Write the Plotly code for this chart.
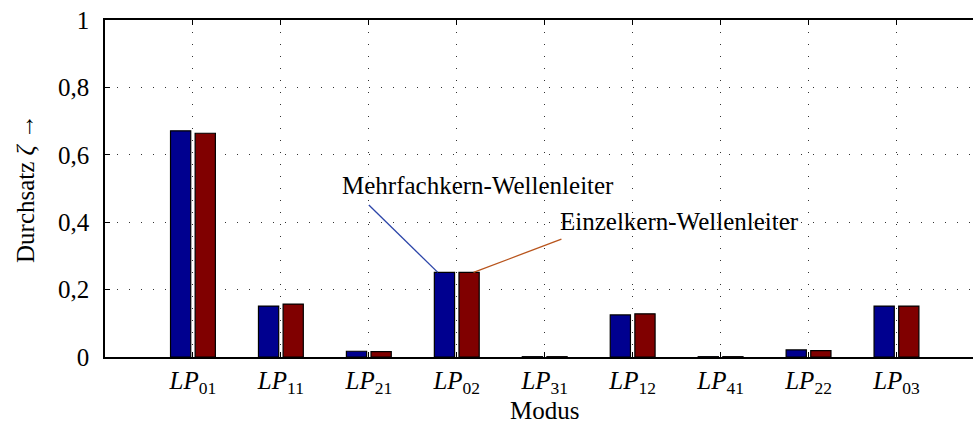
import plotly.graph_objects as go

# Modes (LP mode designations) and throughput per waveguide type
modes = ["01", "11", "21", "02", "31", "12", "41", "22", "03"]
mode_labels = [f"<i>LP</i><sub>{m}</sub>" for m in modes]
multicore = [0.671, 0.151, 0.017, 0.251, 0.001, 0.125, 0.001, 0.021, 0.151]
singlecore = [0.664, 0.157, 0.016, 0.251, 0.001, 0.128, 0.001, 0.019, 0.151]

y_ticks = [0, 0.2, 0.4, 0.6, 0.8, 1]
y_ticktext = ["0", "0,2", "0,4", "0,6", "0,8", "1"]

BLUE = "#00008F"
DARKRED = "#800000"
FONT = "Liberation Serif"
FS = 25

BAR_W = 0.23
OFF_BLUE = -0.255
OFF_RED = 0.025

x_idx = list(range(len(modes)))

fig = go.Figure()
fig.add_trace(go.Bar(
    x=x_idx, y=multicore, name="Mehrfachkern-Wellenleiter",
    width=BAR_W, offset=OFF_BLUE,
    marker=dict(color=BLUE, line=dict(color="black", width=1.2)),
))
fig.add_trace(go.Bar(
    x=x_idx, y=singlecore, name="Einzelkern-Wellenleiter",
    width=BAR_W, offset=OFF_RED,
    marker=dict(color=DARKRED, line=dict(color="black", width=1.2)),
))

grid_dash = "1px,11px"

fig.update_layout(
    width=973, height=423,
    margin=dict(l=105, r=0, t=20, b=66),
    paper_bgcolor="white", plot_bgcolor="white",
    barmode="overlay",
    showlegend=False,
    font=dict(family=FONT, size=FS, color="black"),
    xaxis=dict(
        range=[-1, 8.87],
        tickmode="array", tickvals=x_idx, ticktext=mode_labels,
        ticks="inside", ticklen=5, tickcolor="black", tickwidth=1,
        showline=True, linecolor="black", linewidth=1.5, mirror="ticks",
        showgrid=True, gridcolor="#333333", gridwidth=1, griddash=grid_dash,
        zeroline=False, ticklabelstandoff=0,
        tickfont=dict(family=FONT, size=FS),
    ),
    yaxis=dict(
        range=[0, 1],
        tickmode="array", tickvals=y_ticks, ticktext=y_ticktext,
        ticks="inside", ticklen=5, tickcolor="black", tickwidth=1,
        showline=True, linecolor="black", linewidth=1.5,
        showgrid=True, gridcolor="#333333", gridwidth=1, griddash=grid_dash,
        zeroline=False, ticklabelstandoff=9,
        tickfont=dict(family=FONT, size=FS),
        title=dict(text="Durchsatz <i>ζ</i> →", standoff=16,
                   font=dict(family=FONT, size=FS)),
    ),
)

# axis title for the mode axis, centred under the full axis span
fig.add_annotation(
    text="Modus", xref="x", yref="paper", x=4, y=0, yshift=-38,
    showarrow=False, xanchor="center", yanchor="top",
    font=dict(family=FONT, size=FS),
)

# Callouts naming the two series, pointing at the LP02 bars
i02 = modes.index("02")
callouts = [
    ("Mehrfachkern-Wellenleiter", 3.245, 0.51, 2.0, 0.451,
     i02 + OFF_BLUE + 0.17 * BAR_W, multicore[i02], "#2b44a8"),
    ("Einzelkern-Wellenleiter", 5.53, 0.401, 4.19, 0.35,
     i02 + OFF_RED + 0.72 * BAR_W, singlecore[i02], "#b8541c"),
]
for text, tx, ty, x0, y0, x1, y1, col in callouts:
    fig.add_shape(type="line", xref="x", yref="y", x0=x0, y0=y0, x1=x1, y1=y1,
                  line=dict(color=col, width=1.3))
    fig.add_annotation(text=text, xref="x", yref="y", x=tx, y=ty,
                       showarrow=False, xanchor="center", yanchor="middle",
                       font=dict(family=FONT, size=FS))

fig.write_html("out.html")
